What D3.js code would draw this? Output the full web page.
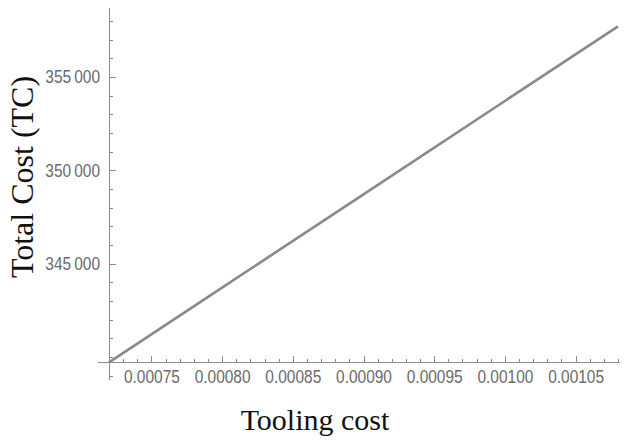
<!DOCTYPE html>
<html>
<head>
<meta charset="utf-8">
<title>Total cost vs tooling cost</title>
<script src="https://cdn.jsdelivr.net/npm/d3@7"></script>
<style>
  body { margin: 0; background: #fff; }
  .axis line, .axis path { stroke: #8c8c8c; shape-rendering: crispEdges; }
  .axis text { font-family: "Liberation Sans", Arial, sans-serif; font-size: 18px; fill: #6a6a6a; }
  .title { font-family: "Liberation Serif", "Times New Roman", serif; font-size: 30px; fill: #111; }
</style>
</head>
<body>
<script>
// values
var toolingCost = [0.00072, 0.00080, 0.00090, 0.00100, 0.00108];
var totalCost   = [339720, 343720, 348720, 353720, 357720];

var xMajor = [0.00075, 0.00080, 0.00085, 0.00090, 0.00095, 0.00100, 0.00105];
var yMajor = [345000, 350000, 355000];

var w = 625, h = 441;
var squeeze = 0.86; // tick labels in the picture are a bit narrow

var x = d3.scaleLinear().domain([0.00072, 0.00108]).range([109, 618]);
var y = d3.scaleLinear().domain([339700, 358700]).range([362.7, 8]);

var xMinor = d3.range(72, 109).map(function(d) { return d / 100000; });
var yMinor = d3.range(339, 359).map(function(d) { return d * 1000; });

var svg = d3.select("body").append("svg")
    .attr("width", w)
    .attr("height", h);

var axisY0 = y(339700); // where the x axis sits
var axisX0 = x(0.00072); // where the y axis sits

// x axis: minor ticks, then major ticks with labels
svg.append("g")
    .attr("class", "axis")
    .attr("transform", "translate(0," + axisY0 + ")")
    .call(d3.axisBottom(x).tickValues(xMinor).tickSize(-3.5).tickFormat(""))
    .call(function(g) { g.select(".domain").remove(); });

svg.append("g")
    .attr("class", "axis")
    .attr("transform", "translate(0," + axisY0 + ")")
    .call(d3.axisBottom(x).tickValues(xMajor).tickSize(-6.5).tickPadding(8)
        .tickFormat(d3.format(".5f")))
    .call(function(g) {
        g.select(".domain").remove();
        g.selectAll("text").attr("transform", "scale(" + squeeze + ",1)");
    });

// y axis
svg.append("g")
    .attr("class", "axis")
    .attr("transform", "translate(" + axisX0 + ",0)")
    .call(d3.axisLeft(y).tickValues(yMinor).tickSize(-3.5).tickFormat(""))
    .call(function(g) { g.select(".domain").remove(); });

svg.append("g")
    .attr("class", "axis")
    .attr("transform", "translate(" + axisX0 + ",0)")
    .call(d3.axisLeft(y).tickValues(yMajor).tickSize(-6.5).tickPadding(9)
        .tickFormat(function(d) { return d3.format(",")(d).replace(",", "\u2009"); }))
    .call(function(g) {
        g.select(".domain").remove();
        g.selectAll("text")
            .attr("x", -9 / squeeze)
            .attr("transform", "scale(" + squeeze + ",1)");
    });

// axis lines (they run a little past the data range)
svg.append("line")
    .attr("x1", x(0.000712)).attr("x2", x(0.0010815))
    .attr("y1", axisY0).attr("y2", axisY0)
    .attr("stroke", "#8c8c8c").attr("shape-rendering", "crispEdges");

svg.append("line")
    .attr("x1", axisX0).attr("x2", axisX0)
    .attr("y1", y(338800)).attr("y2", y(358700))
    .attr("stroke", "#8c8c8c").attr("shape-rendering", "crispEdges");

// the line itself
var line = d3.line()
    .x(function(d, i) { return x(toolingCost[i]); })
    .y(function(d) { return y(d); });

svg.append("path")
    .datum(totalCost)
    .attr("d", line)
    .attr("fill", "none")
    .attr("stroke", "#8a8a8a")
    .attr("stroke-width", 2.6);

// titles
svg.append("text")
    .attr("class", "title")
    .attr("x", 315)
    .attr("y", 430)
    .attr("text-anchor", "middle")
    .text("Tooling cost");

svg.append("text")
    .attr("class", "title")
    .attr("transform", "translate(33,177) rotate(-90)")
    .attr("text-anchor", "middle")
    .style("font-size", "32px")
    .text("Total Cost (TC)");
</script>
</body>
</html>
